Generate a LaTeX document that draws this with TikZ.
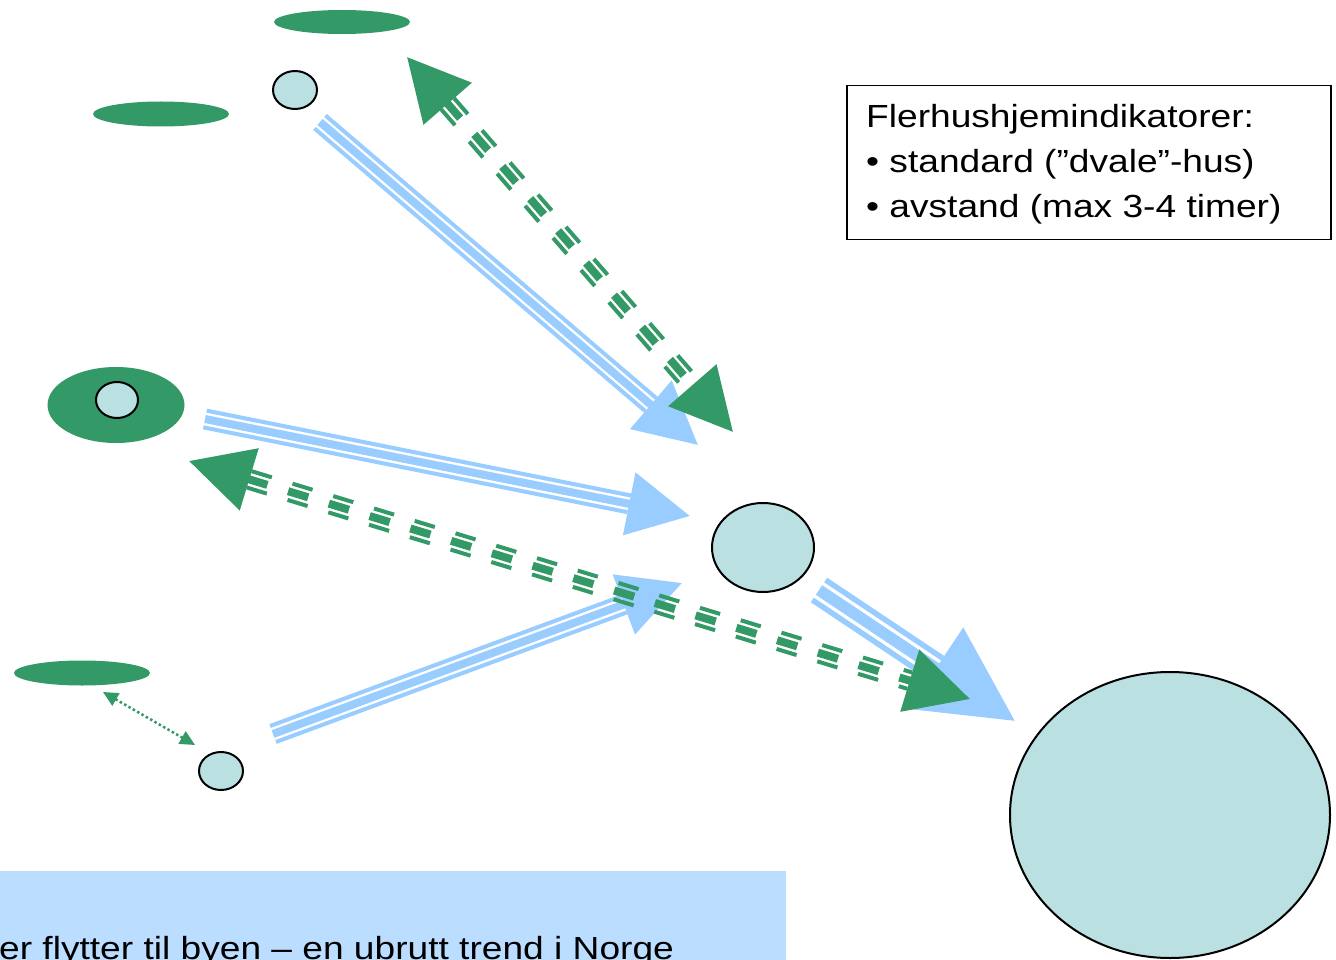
\documentclass[tikz,border=0pt]{standalone}
\usepackage{fontspec}
\setmainfont{Liberation Sans}[FakeStretch=1.16]
\usepackage{tikz}
\usetikzlibrary{shapes.geometric, arrows.meta}
\usetikzlibrary{positioning, calc}

\definecolor{flowgreen}{HTML}{339966}
\definecolor{flowblue}{HTML}{99CCFF}
\definecolor{placefill}{HTML}{BAE0E2}
\definecolor{bannerblue}{HTML}{BBDDFF}

\tikzstyle{place} = [ellipse, draw=black, line width=2pt, fill=placefill, inner sep=0pt]
\tikzstyle{cabin} = [ellipse, fill=flowgreen, inner sep=0pt]
\tikzstyle{blueflow} = [color=flowblue]
\tikzstyle{greenflow} = [color=flowgreen, dash pattern=on 21pt off 21.6pt]
\tikzstyle{bighead} = [-{Triangle[length=62pt, width=62pt]}]

% the two thin outer stripes of a flow line
\newcommand{\sidelines}[5]{%
  \draw[#1, line width=#5] ($(#2)!#4!90:(#3)$) -- ($(#3)!#4!-90:(#2)$);
  \draw[#1, line width=#5] ($(#2)!#4!-90:(#3)$) -- ($(#3)!#4!90:(#2)$);
}

\begin{document}
\begin{tikzpicture}[x=1pt, y=-1pt]
        \clip (0,0) rectangle (1336,960);

        \node[cabin, minimum width=136pt, minimum height=24pt] (hytteTopp) at (342,22) {};
        \node[place, minimum width=44pt, minimum height=38pt] (stedTopp) at (295,90) {};
        \node[cabin, minimum width=136pt, minimum height=25pt] (hytteVenstre) at (161,114) {};
        \node[cabin, minimum width=137pt, minimum height=76pt] (hytteMidt) at (116,405) {};
        \node[place, minimum width=42pt, minimum height=36pt] (stedMidt) at (117,400) {};
        \node[cabin, minimum width=136pt, minimum height=25pt] (hytteBunn) at (82,673) {};
        \node[place, minimum width=44pt, minimum height=38pt] (stedBunn) at (221,771) {};
        \node[place, minimum width=102pt, minimum height=89pt] (byMellom) at (763,547.5) {};
        \node[place, minimum width=320pt, minimum height=286pt] (byStor) at (1170,815) {};

        \node[draw=black, line width=1.5pt, minimum width=484pt, minimum height=154pt, anchor=north west, inner sep=0pt] (legend) at (846,85) {};
        \node[anchor=north west, align=left, inner sep=0pt, font=\fontsize{32}{45}\selectfont] (legendtext) at (866,104)
            {Flerhushjemindikatorer:\\• standard (”dvale”-hus)\\• avstand (max 3-4 timer)};

        \node[fill=bannerblue, minimum width=786pt, minimum height=89pt, anchor=north west, inner sep=0pt] (banner) at (0,871) {};
        \node[anchor=base west, inner sep=0pt, font=\fontsize{32}{38}\selectfont] (bannertext) at (-1,959)
            {er flytter til byen – en ubrutt trend i Norge};

        % flow end points
        \coordinate (b1s) at (320,122);   \coordinate (b1e) at (698,445);
        \coordinate (g2s) at (407,57);    \coordinate (g2e) at (733,432);
        \coordinate (b3s) at (205,419);   \coordinate (b3e) at (690,516);
        \coordinate (g4s) at (189,461);   \coordinate (g4e) at (970,699);
        \coordinate (b5s) at (273,734);   \coordinate (b5e) at (682,583);
        \coordinate (b6s) at (819,590);   \coordinate (b6e) at (1015,721);
        \coordinate (d7s) at (103,692);   \coordinate (d7e) at (195,745);

        % blue flows
        \draw[blueflow, bighead, line width=8pt] (b1s) -- (b1e);
        \sidelines{blueflow, shorten >=62pt}{b1s}{b1e}{8.5pt}{4pt}
        \draw[blueflow, bighead, line width=8pt] (b3s) -- (b3e);
        \sidelines{blueflow, shorten >=62pt}{b3s}{b3e}{8.5pt}{4pt}
        \draw[blueflow, bighead, line width=8pt] (b5s) -- (b5e);
        \sidelines{blueflow, shorten >=62pt}{b5s}{b5e}{8.5pt}{4pt}
        \draw[blueflow, -{Triangle[length=95pt, width=95pt]}, line width=11.5pt] (b6s) -- (b6e);
        \sidelines{blueflow, shorten >=95pt}{b6s}{b6e}{12pt}{5.5pt}

        % green flows
        \draw[greenflow, {Triangle[length=62pt, width=62pt]}-{Triangle[length=62pt, width=62pt]}, line width=8pt] (g2s) -- (g2e);
        \sidelines{greenflow, shorten <=62pt, shorten >=62pt}{g2s}{g2e}{8.5pt}{4pt}
        \draw[greenflow, {Triangle[length=63pt, width=63pt]}-{Triangle[length=63pt, width=63pt]}, line width=8pt] (g4s) -- (g4e);
        \sidelines{greenflow, shorten <=63pt, shorten >=63pt}{g4s}{g4e}{8.5pt}{4pt}

        \draw[color=flowgreen, line width=2.5pt, dash pattern=on 2.5pt off 2.5pt, {Triangle[length=15pt, width=14pt]}-{Triangle[length=15pt, width=14pt]}] (d7s) -- (d7e);

    \end{tikzpicture}
\end{document}
